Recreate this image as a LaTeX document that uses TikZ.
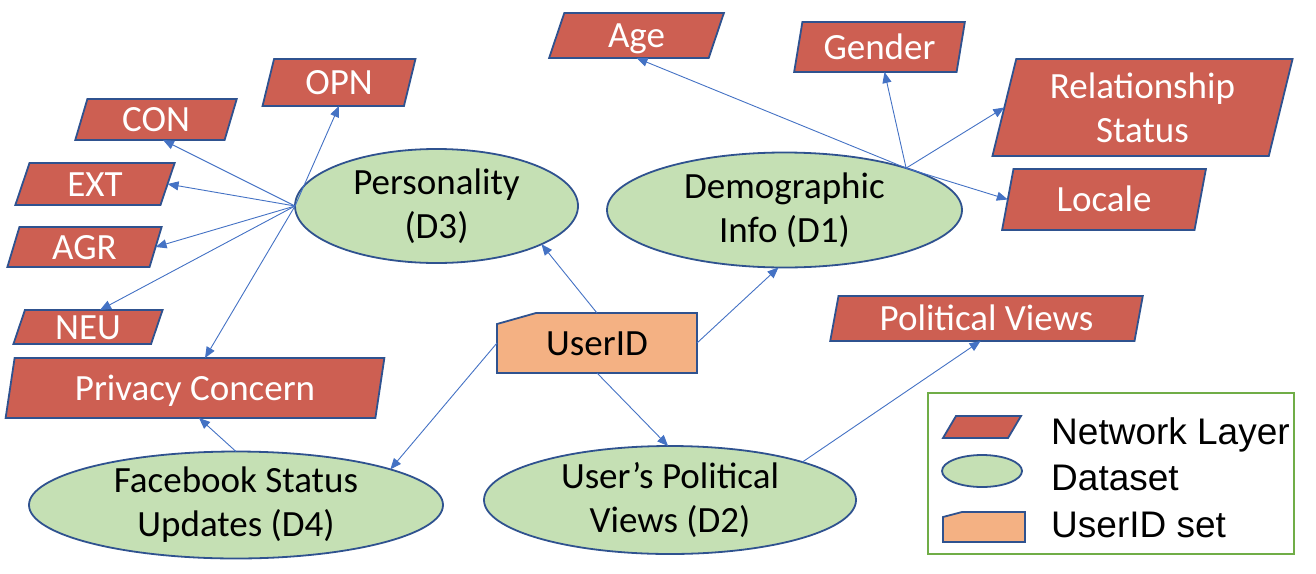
\documentclass[tikz,border=0pt]{standalone}
\usepackage{fontspec}
\setmainfont{Carlito}
\newfontfamily\arialfont{Liberation Sans}
\usetikzlibrary{shapes.geometric,arrows.meta,backgrounds}
\definecolor{boxred}{HTML}{CD5F52}
\definecolor{edgeblue}{HTML}{2F528F}
\definecolor{dsgreen}{HTML}{C5E0B4}
\definecolor{uidorange}{HTML}{F4B183}
\definecolor{arrowblue}{HTML}{4472C4}
\definecolor{legendgreen}{HTML}{70AD47}
\begin{document}
\begin{tikzpicture}[x=1pt,y=-1pt,
  bigfont/.style={font=\fontsize{37}{44}\selectfont},
  oneline/.style={text height=24pt, text depth=0pt},
  layerbox/.style={trapezium, trapezium left angle=76, trapezium right angle=104,
    trapezium stretches=true, draw=edgeblue, line width=1.8pt, fill=boxred,
    text=white, inner sep=0pt, outer sep=0pt, bigfont, align=center},
  dataset/.style={ellipse, draw=edgeblue, line width=1.8pt, fill=dsgreen,
    inner sep=0pt, outer sep=0pt, bigfont, align=center},
  link/.style={draw=arrowblue, line width=0.9pt, -{Triangle[length=11pt,width=9pt]}},
  legendtext/.style={anchor=base west, inner sep=0pt, font=\arialfont\fontsize{37}{44}\selectfont},
]
\useasboundingbox (0,0) rectangle (1316,573);
% network layer boxes
\node[layerbox, oneline, minimum width=154, minimum height=47] (opn) at (339,82.5) {OPN};
\node[layerbox, oneline, minimum width=162, minimum height=41] (con) at (156,119.5) {CON};
\node[layerbox, oneline, minimum width=160, minimum height=42] (ext) at (95,184) {EXT};
\node[layerbox, oneline, minimum width=155, minimum height=40] (agr) at (84.5,247) {AGR};
\node[layerbox, oneline, minimum width=150, minimum height=34] (neu) at (88,327) {NEU};
\node[layerbox, oneline, minimum width=380, minimum height=60] (priv) at (195,388) {Privacy Concern};
\node[layerbox, oneline, minimum width=175, minimum height=45] (age) at (636.5,35.5) {Age};
\node[layerbox, oneline, minimum width=171, minimum height=50] (gender) at (879.5,47) {Gender};
\node[layerbox, minimum width=301, minimum height=97] (rel) at (1142.5,107.5) {Relationship\\Status};
\node[layerbox, oneline, minimum width=204, minimum height=61] (locale) at (1104,199.5) {Locale};
\node[layerbox, oneline, minimum width=313, minimum height=45] (pv) at (986.5,318.5) {Political Views};
% datasets
\node[dataset, minimum width=283, minimum height=114] (pers) at (436.5,206) {Personality\\(D3)};
\node[dataset, minimum width=355, minimum height=115] (demo) at (784.5,210) {Demographic\\Info (D1)};
\node[dataset, minimum width=414, minimum height=100] (fb) at (236,505) {Facebook Status\\Updates (D4)};
\node[dataset, minimum width=372, minimum height=108] (upv) at (670,500) {User’s Political\\Views (D2)};
% UserID
\node[rectangle, oneline, minimum width=200, minimum height=60, inner sep=0pt, outer sep=0pt, bigfont] (uid) at (597,343) {UserID};
\begin{scope}[on background layer]
\draw[edgeblue, line width=1.8pt, fill=uidorange] (uid.south west) -- ([yshift=-11pt]uid.north west)
  -- ([xshift=39pt]uid.north west) -- (uid.north east) -- (uid.south east) -- cycle;
\end{scope}
% junctions
\coordinate (pj) at (pers.west);
\coordinate (dj) at (demo.19);
% connectors
\draw[link] (pj) -- (opn.south);
\draw[link] (pj) -- ([xshift=7pt]con.south);
\draw[link] (pj) -- (ext.east);
\draw[link] (pj) -- (agr.east);
\draw[link] (pj) -- ([xshift=12pt]neu.north);
\draw[link] (pj) -- ([xshift=10pt]priv.north);
\draw[link] (dj) -- (age.south);
\draw[link] (dj) -- ([xshift=5pt]gender.south);
\draw[link] (dj) -- (rel.west);
\draw[link] (dj) -- (locale.west);
\draw[link] (uid.north) -- (pers.-20);
\draw[link] (uid.east) -- (demo.-96);
\draw[link] (uid.west) -- (fb.13);
\draw[link] (uid.south) -- (upv.92);
\draw[link] (upv.16) -- ([xshift=-6pt]pv.south);
\draw[link] (fb.north) -- ([xshift=4pt]priv.south);
% legend
\node[draw=legendgreen, line width=1.8pt, minimum width=366, minimum height=161, inner sep=0pt] (legend) at (1111,473.5) {};
\node[layerbox, inner sep=1pt, minimum width=78, minimum height=22] (lgbox) at (982,427) {};
\node[dataset, inner sep=1pt, minimum width=80, minimum height=32] (lgell) at (982,471) {};
\draw[edgeblue, line width=1.8pt, fill=uidorange] (943,542) -- (943,517) -- (962,512) -- (1025,512) -- (1025,542) -- cycle;
\node[legendtext] (lt1) at (1051,444) {Network Layer};
\node[legendtext] (lt2) at (1051,490) {Dataset};
\node[legendtext] (lt3) at (1051,537) {UserID set};
\end{tikzpicture}
\end{document}
